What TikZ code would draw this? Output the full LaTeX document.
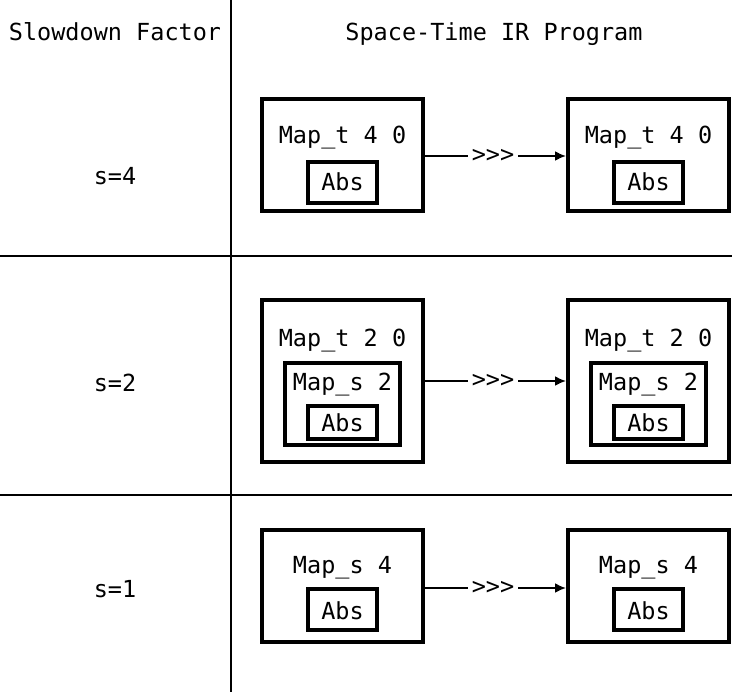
\documentclass[tikz,border=0pt]{standalone}
\usepackage{fontspec}
\setmonofont{DejaVu Sans Mono}
\usetikzlibrary{arrows.meta}
\tikzset{
    lbl/.style={font=\ttfamily\fontsize{23.5}{28}\selectfont, inner sep=0pt, anchor=base},
    box/.style={draw, line width=4pt, inner sep=0pt},
    rule/.style={line width=2pt},
    flow/.style={line width=2pt, -{Latex[length=11pt, width=10pt]}}
}
\begin{document}
\begin{tikzpicture}[x=1pt, y=-1pt]
        \useasboundingbox (0,0) rectangle (734,694);
        % table rules
        \coordinate (top) at (231,0);
        \coordinate (bot) at (231,692);
        \draw[rule] (top) -- (bot);
        \draw[rule] (0,256) -- (732,256);
        \draw[rule] (0,495) -- (732,495);
        % headings
        \node[lbl] (hfac) at (115,40) {Slowdown Factor};
        \node[lbl] (hprog) at (494,40) {Space-Time IR Program};
        \node[lbl] (s4) at (115,184) {s=4};
        \node[lbl] (s2) at (115,391) {s=2};
        \node[lbl] (s1) at (115,597) {s=1};
        % boxes, left and right copy
        \foreach \c/\x in {L/342.5, R/648.5}
        {
            % s=4
            \node[box, minimum width=161pt, minimum height=112pt] (a\c) at (\x,155) {};
            \node[lbl] at (\x,143.5) {Map\_t 4 0};
            \node[box, minimum width=69pt, minimum height=41pt] (aabs\c) at (\x,182.5) {};
            \node[lbl] at (\x,190.5) {Abs};
            % s=2
            \node[box, minimum width=161pt, minimum height=162pt] (b\c) at (\x,381) {};
            \node[lbl] at (\x,346.5) {Map\_t 2 0};
            \node[box, minimum width=115pt, minimum height=82pt] (bmap\c) at (\x,404) {};
            \node[lbl] at (\x,390) {Map\_s 2};
            \node[box, minimum width=69pt, minimum height=33pt] (babs\c) at (\x,422.5) {};
            \node[lbl] at (\x,431) {Abs};
            % s=1
            \node[box, minimum width=161pt, minimum height=112pt] (c\c) at (\x,586) {};
            \node[lbl] at (\x,573) {Map\_s 4};
            \node[box, minimum width=69pt, minimum height=41pt] (cabs\c) at (\x,609.5) {};
            \node[lbl] at (\x,619.5) {Abs};
        }
        % composition arrows
        \node[lbl, anchor=center, inner xsep=4pt] (ga) at (493,156) {>>>};
        \node[lbl, anchor=center, inner xsep=4pt] (gb) at (493,381) {>>>};
        \node[lbl, anchor=center, inner xsep=4pt] (gc) at (493,588) {>>>};
        \draw[rule] (aL.east |- ga) -- (ga.west);
        \draw[flow] (ga.east) -- (aR.west |- ga);
        \draw[rule] (bL.east |- gb) -- (gb.west);
        \draw[flow] (gb.east) -- (bR.west |- gb);
        \draw[rule] (cL.east |- gc) -- (gc.west);
        \draw[flow] (gc.east) -- (cR.west |- gc);
\end{tikzpicture}
\end{document}
